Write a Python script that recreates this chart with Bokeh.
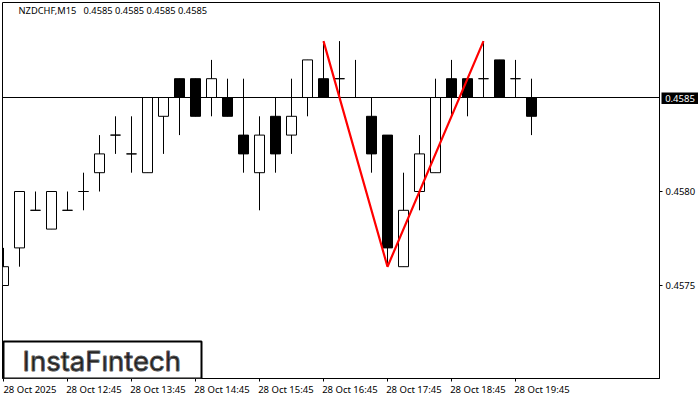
from bokeh.core.properties import value
from bokeh.embed import file_html
from bokeh.models import BoxAnnotation, FixedTicker, Label, LinearAxis
from bokeh.plotting import figure
from bokeh.resources import INLINE

# velas M15
apertura = [0.4575, 0.4577, 0.4579, 0.4578, 0.4579, 0.4580, 0.4581, 0.4583, 0.4582, 0.4581, 0.4584, 0.4586,
            0.4586, 0.4585, 0.4585, 0.4583, 0.4581, 0.4584, 0.4583, 0.4585, 0.4586, 0.4586, 0.4585, 0.4584,
            0.4583, 0.4576, 0.4580, 0.4581, 0.4586, 0.4586, 0.4586, 0.4587, 0.4586, 0.4585]
maximo = [0.4577, 0.4580, 0.4580, 0.4580, 0.4580, 0.4581, 0.4583, 0.4584, 0.4584, 0.4585, 0.4585, 0.4586,
          0.4586, 0.4587, 0.4586, 0.4586, 0.4584, 0.4585, 0.4586, 0.4587, 0.4588, 0.4588, 0.4587, 0.4585,
          0.4583, 0.4581, 0.4583, 0.4586, 0.4587, 0.4586, 0.4588, 0.4587, 0.4587, 0.4586]
minimo = [0.4575, 0.4576, 0.4579, 0.4578, 0.4579, 0.4579, 0.4580, 0.4582, 0.4581, 0.4581, 0.4582, 0.4583,
          0.4584, 0.4584, 0.4584, 0.4581, 0.4579, 0.4581, 0.4582, 0.4584, 0.4585, 0.4585, 0.4585, 0.4581,
          0.4576, 0.4576, 0.4579, 0.4581, 0.4584, 0.4584, 0.4585, 0.4585, 0.4585, 0.4583]
cierre = [0.4576, 0.4580, 0.4579, 0.4580, 0.4579, 0.4580, 0.4582, 0.4583, 0.4582, 0.4585, 0.4585, 0.4585,
          0.4584, 0.4586, 0.4584, 0.4582, 0.4583, 0.4582, 0.4584, 0.4587, 0.4585, 0.4586, 0.4585, 0.4582,
          0.4577, 0.4579, 0.4582, 0.4585, 0.4585, 0.4585, 0.4586, 0.4585, 0.4586, 0.4584]

etiquetas_x = ["28 Oct 2025", "28 Oct 12:45", "28 Oct 13:45", "28 Oct 14:45", "28 Oct 15:45",
               "28 Oct 16:45", "28 Oct 17:45", "28 Oct 18:45", "28 Oct 19:45"]
posiciones_x = [0, 4, 8, 12, 16, 20, 24, 28, 32]
niveles_y = [0.4575, 0.4580]

patron_x = [20, 24, 30]
patron_y = [0.4588, 0.4576, 0.4588]
precio = 0.4585

FUENTE = "Noto Sans"
DESPLAZA = 1.65  # las etiquetas de fecha empiezan en la marca, no se centran en ella

indices = list(range(len(apertura)))
suben = [i for i in indices if cierre[i] >= apertura[i]]
bajan = [i for i in indices if cierre[i] < apertura[i]]

rango_x = (-1.0 / 16, 656.0 / 16)
p = figure(width=700, height=400, output_backend="svg", toolbar_location=None,
           x_range=rango_x,
           y_range=(precio - 281.0 / 188000, precio + 95.0 / 188000),
           y_axis_location="right", min_border_left=2, min_border_top=2,
           min_border_right=41, min_border_bottom=22)
p.styles = {"position": "absolute", "left": "0px", "top": "0px"}
p.grid.visible = False
p.outline_line_color = "black"
p.outline_line_width = 1

p.xaxis.ticker = FixedTicker(ticks=posiciones_x)
p.xaxis.major_label_text_font_size = "1px"
p.xaxis.major_label_text_color = None
p.xaxis.major_label_standoff = 0
p.yaxis.ticker = FixedTicker(ticks=niveles_y)
p.yaxis.major_label_overrides = {n: f"{n:.4f}" for n in niveles_y}
p.yaxis.major_label_standoff = 3
p.yaxis.major_label_text_font = FUENTE
p.yaxis.major_label_text_font_size = "9.5px"
p.yaxis.major_label_text_color = "black"
for eje in (p.xaxis, p.yaxis):
    eje.minor_tick_line_color = None
    eje.major_tick_in = 0
    eje.major_tick_out = 3
    eje.axis_line_color = "black"
    eje.major_tick_line_color = "black"

ticks_fecha = [x + DESPLAZA for x in posiciones_x]
eje_fechas = LinearAxis(ticker=FixedTicker(ticks=ticks_fecha),
                        major_label_overrides=dict(zip(ticks_fecha, etiquetas_x)),
                        axis_line_color=None, major_tick_line_color=None, minor_tick_line_color=None,
                        major_tick_in=0, major_tick_out=0, major_label_standoff=1,
                        major_label_text_font=FUENTE, major_label_text_font_size="9.5px",
                        major_label_text_color="black")
p.add_layout(eje_fechas, "below")

p.segment(indices, minimo, indices, maximo, line_color="black", line_width=1)
p.vbar([i for i in suben], 0.625, [apertura[i] for i in suben], [cierre[i] for i in suben],
       fill_color="white", line_color="black", line_width=1)
p.vbar([i for i in bajan], 0.625, [cierre[i] for i in bajan], [apertura[i] for i in bajan],
       fill_color="black", line_color="black", line_width=1)

p.line(rango_x, [precio, precio], line_color="black", line_width=1)
p.line(patron_x, patron_y, line_color="#ff0000", line_width=2.2)

p.add_layout(Label(x=18, y=3, x_units="canvas", y_units="canvas",
                   text="NZDCHF,M15\u00a0\u00a0 0.4585 0.4585 0.4585 0.4585",
                   text_font=FUENTE, text_font_size="9.3px", text_color="black", text_baseline="top"))

p.add_layout(BoxAnnotation(left=3, right=201, top=341, bottom=378, left_units="canvas", right_units="canvas",
                           top_units="canvas", bottom_units="canvas", fill_color="white", fill_alpha=1,
                           line_color="black", line_width=2, line_alpha=1))
p.add_layout(Label(x=22, y=360, x_units="canvas", y_units="canvas", text="InstaF\u0131ntech", text_font="Inter",
                   text_font_size="27.5px", text_color="#1a1a1a", text_baseline="middle",
                   text_outline_color="#555555"))

# recuadro del precio actual, fuera del marco del grafico
q = figure(width=37, height=12, output_backend="svg", toolbar_location=None, x_range=(0, 1), y_range=(0, 1),
           x_axis_type=None, y_axis_type=None, min_border=0, background_fill_color="black",
           border_fill_color="black", outline_line_color=None)
q.styles = {"position": "absolute", "left": "661px", "top": "92px"}
q.grid.visible = False
q.text([0.5], [0.5], text=[f"{precio:.4f}"], text_align="center", text_baseline="middle",
       text_font=value(FUENTE), text_font_size="9.5px", text_color="white")

open("out.html", "w").write(file_html([p, q], INLINE))
